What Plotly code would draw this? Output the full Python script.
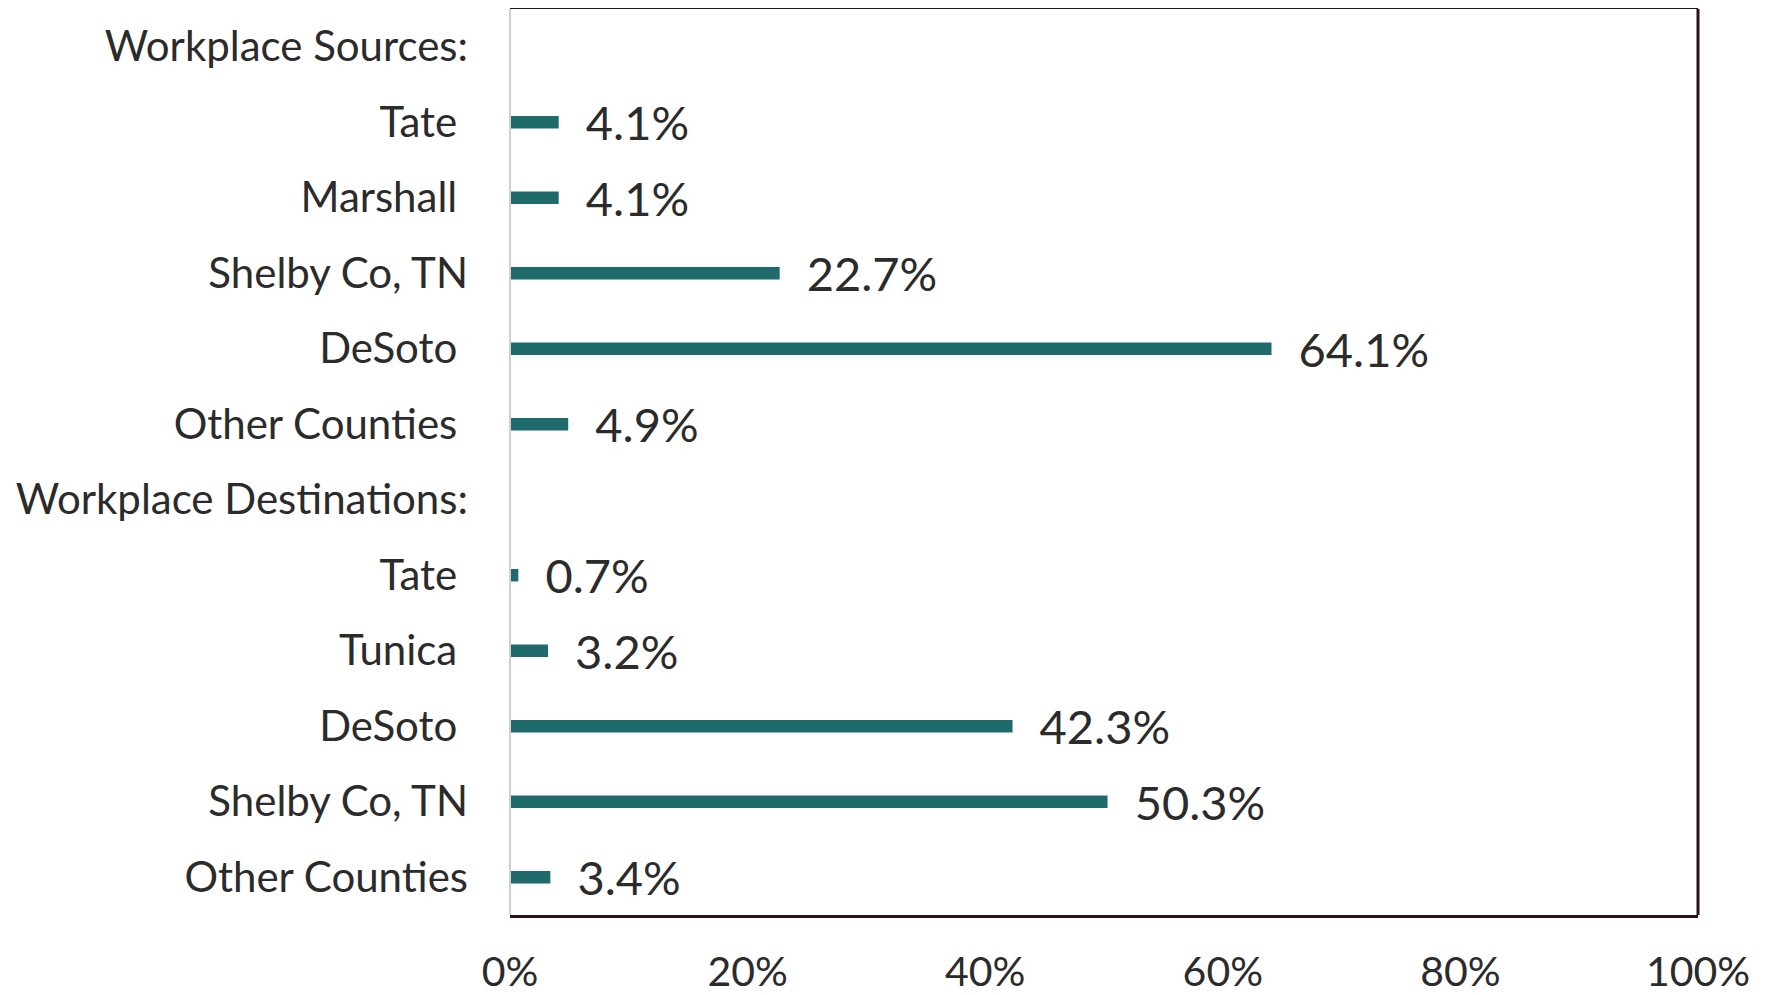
import plotly.graph_objects as go

labels = [
    "Workplace Sources:",
    "Tate\u00a0",
    "Marshall\u00a0",
    "Shelby Co, TN",
    "DeSoto\u00a0",
    "Other Counties\u00a0",
    "Workplace Destinations:",
    "Tate\u00a0",
    "Tunica\u00a0",
    "DeSoto\u00a0",
    "Shelby Co, TN",
    "Other Counties",
]
values = [None, 4.1, 4.1, 22.7, 64.1, 4.9, None, 0.7, 3.2, 42.3, 50.3, 3.4]
x_ticks = [0, 20, 40, 60, 80, 100]

positions = list(range(len(labels)))
texts = ["" if v is None else "\u00a0\u00a0" + f"{v:.1f}%" for v in values]

FONT = "Lato"
TEXT_COLOR = "#2b2b2b"
BAR_COLOR = "#1f6b6c"
BORDER = "#2a1215"

fig = go.Figure(
    go.Bar(
        x=values,
        y=positions,
        orientation="h",
        marker=dict(color=BAR_COLOR, line=dict(width=0)),
        text=texts,
        textposition="outside",
        constraintext="none",
        cliponaxis=False,
        textfont=dict(family=FONT, size=47, color=TEXT_COLOR),
        width=0.165,
        hoverinfo="skip",
    )
)

fig.update_layout(
    width=1765,
    height=987,
    margin=dict(l=502, r=75, t=1, b=80),
    paper_bgcolor="white",
    plot_bgcolor="white",
    showlegend=False,
    font=dict(family=FONT, color=TEXT_COLOR),
    shapes=[
        dict(type="line", xref="paper", yref="paper", x0=0, x1=0, y0=0, y1=1,
             line=dict(color="#d0d0d0", width=2)),
        dict(type="line", xref="paper", yref="paper", x0=1, x1=1, y0=0, y1=1,
             line=dict(color=BORDER, width=3)),
    ],
)

fig.update_xaxes(
    range=[0, 100],
    tickvals=x_ticks,
    ticktext=[f"{t}%" for t in x_ticks],
    showgrid=False,
    zeroline=False,
    showline=True,
    linecolor=BORDER,
    linewidth=3,
    mirror=True,
    ticks="",
    automargin=False,
    ticklabelstandoff=19,
    tickfont=dict(family=FONT, size=41, color=TEXT_COLOR),
)

fig.update_yaxes(
    range=[len(labels) - 0.5, -0.5],
    tickvals=positions,
    ticktext=labels,
    showgrid=False,
    zeroline=False,
    showline=False,
    ticks="",
    automargin=False,
    ticklabelstandoff=41,
    tickfont=dict(family=FONT, size=42, color=TEXT_COLOR),
)

fig.write_html("out.html")
